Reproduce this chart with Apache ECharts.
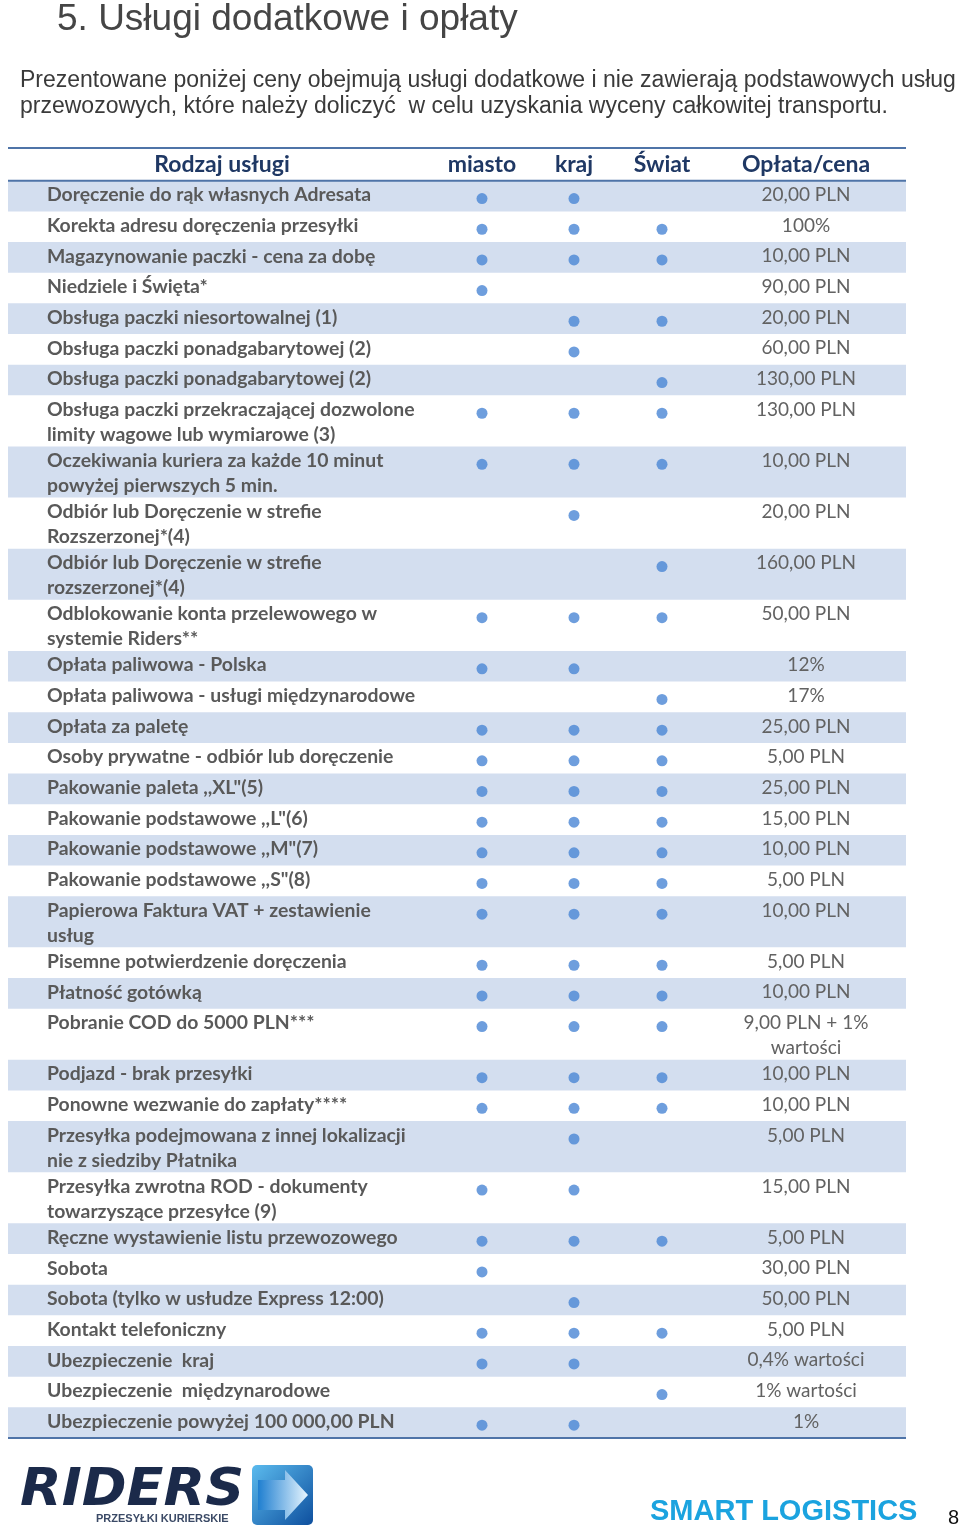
<!DOCTYPE html>
<html><head><meta charset="utf-8">
<script src="https://cdn.jsdelivr.net/npm/echarts@6/dist/echarts.min.js"></script>
<style>html,body{margin:0;padding:0;background:#fff}#c{width:960px;height:1534px}</style>
</head><body><div id="c"></div>
<script>
// ---------- DATA ----------
const columns = ['Rodzaj usługi', 'miasto', 'kraj', 'Świat', 'Opłata/cena'];
const services = [
  'Doręczenie do rąk własnych Adresata',
  'Korekta adresu doręczenia przesyłki',
  'Magazynowanie paczki - cena za dobę',
  'Niedziele i Święta*',
  'Obsługa paczki niesortowalnej (1)',
  'Obsługa paczki ponadgabarytowej (2)',
  'Obsługa paczki ponadgabarytowej (2)',
  'Obsługa paczki przekraczającej dozwolone\nlimity wagowe lub wymiarowe (3)',
  'Oczekiwania kuriera za każde 10 minut\npowyżej pierwszych 5 min.',
  'Odbiór lub Doręczenie w strefie\nRozszerzonej*(4)',
  'Odbiór lub Doręczenie w strefie\nrozszerzonej*(4)',
  'Odblokowanie konta przelewowego w\nsystemie Riders**',
  'Opłata paliwowa - Polska',
  'Opłata paliwowa - usługi międzynarodowe',
  'Opłata za paletę',
  'Osoby prywatne - odbiór lub doręczenie',
  'Pakowanie paleta ,,XL"(5)',
  'Pakowanie podstawowe ,,L"(6)',
  'Pakowanie podstawowe ,,M"(7)',
  'Pakowanie podstawowe ,,S"(8)',
  'Papierowa Faktura VAT + zestawienie\nusług',
  'Pisemne potwierdzenie doręczenia',
  'Płatność gotówką',
  'Pobranie COD do 5000 PLN***',
  'Podjazd - brak przesyłki',
  'Ponowne wezwanie do zapłaty****',
  'Przesyłka podejmowana z innej lokalizacji\nnie z siedziby Płatnika',
  'Przesyłka zwrotna ROD - dokumenty\ntowarzyszące przesyłce (9)',
  'Ręczne wystawienie listu przewozowego',
  'Sobota',
  'Sobota (tylko w usłudze Express 12:00)',
  'Kontakt telefoniczny',
  'Ubezpieczenie  kraj',
  'Ubezpieczenie  międzynarodowe',
  'Ubezpieczenie powyżej 100 000,00 PLN'
];
const cityFlags    = [1,1,1,1,0,0,0,1,1,0,0,1,1,0,1,1,1,1,1,1,1,1,1,1,1,1,0,1,1,1,0,1,1,0,1];
const countryFlags = [1,1,1,0,1,1,0,1,1,1,0,1,1,0,1,1,1,1,1,1,1,1,1,1,1,1,1,1,1,0,1,1,1,0,1];
const worldFlags   = [0,1,1,0,1,0,1,1,1,0,1,1,0,1,1,1,1,1,1,1,1,1,1,1,1,1,0,0,1,0,0,1,0,1,0];
const prices = [
  '20,00 PLN','100%','10,00 PLN','90,00 PLN','20,00 PLN','60,00 PLN','130,00 PLN',
  '130,00 PLN','10,00 PLN','20,00 PLN','160,00 PLN','50,00 PLN','12%','17%',
  '25,00 PLN','5,00 PLN','25,00 PLN','15,00 PLN','10,00 PLN','5,00 PLN','10,00 PLN',
  '5,00 PLN','10,00 PLN','9,00 PLN + 1%\nwartości','10,00 PLN','10,00 PLN','5,00 PLN',
  '15,00 PLN','5,00 PLN','30,00 PLN','50,00 PLN','5,00 PLN','0,4% wartości','1% wartości','1%'
];
const titleText = '5. Usługi dodatkowe i opłaty';
const introText = 'Prezentowane poniżej ceny obejmują usługi dodatkowe i nie zawierają podstawowych usług\nprzewozowych, które należy doliczyć  w celu uzyskania wyceny całkowitej transportu.';

// ---------- LAYOUT ----------
const GRID_LEFT = 8, GRID_TOP = 148, GRID_W = 898, GRID_H = 1290;
const HEADER_U = 3.2;
const lineCount = services.map((s, i) => Math.max(s.split('\n').length, prices[i].split('\n').length));
const rowH = lineCount.map(n => n === 1 ? 3 : 5);
const rowTop = [];
let acc = 0;
rowH.forEach(h => { rowTop.push(acc); acc += h; });
const TOTAL_U = acc;
const colX = { name: 39, city: 474, country: 566, world: 654, price: 798, head0: 214 };
const TEXT_C = 1.4, DOT_C = 1.75; // in row units
const LINE_PX = 25;

const FONT_CAL = 'Lato, "Open Sans", sans-serif';
const nameColor = '#595959', priceColor = '#626262', headColor = '#1f3864';
const shade = '#d3deef', lineColor = '#4f74a8', dotColor = '#4a86d4';

function dots(flags, x) {
  const out = [];
  flags.forEach((f, i) => { if (f) out.push([x, rowTop[i] + DOT_C]); });
  return out;
}

const chart = echarts.init(document.getElementById('c'), null, { renderer: 'canvas' });
chart.setOption({
  animation: false,
  backgroundColor: '#ffffff',
  grid: { left: GRID_LEFT, top: GRID_TOP, width: GRID_W, height: GRID_H },
  xAxis: { type: 'value', min: 0, max: GRID_W, show: false },
  yAxis: { type: 'value', min: -HEADER_U, max: TOTAL_U, inverse: true, show: false },
  graphic: [
    { type: 'text', left: 57, top: 1, style: { text: titleText, font: '37px "Liberation Sans", Arial, sans-serif', fill: '#454545' } },
    { type: 'text', left: 20, top: 68, style: { text: introText, font: '23px "Liberation Sans", Arial, sans-serif', fill: '#3a3a3a', lineHeight: 26 } },
    // logo
    { type: 'text', left: 20, top: 1466, scaleX: 1.06, style: { text: 'RIDERS', font: 'italic bold 51px "DejaVu Sans", sans-serif', fill: '#1b2a4a' } },
    { type: 'text', left: 96, top: 1513, style: { text: 'PRZESYŁKI KURIERSKIE', font: 'bold 11px "Liberation Sans", Arial, sans-serif', fill: '#3b4a66' } },
    { type: 'rect', shape: { x: 252, y: 1465, width: 61, height: 60, r: 5 },
      style: { fill: new echarts.graphic.LinearGradient(0, 0, 1, 1, [{ offset: 0, color: '#5bbbee' }, { offset: 1, color: '#0e4f9e' }]) } },
    { type: 'polygon', shape: { points: [[258,1480],[285,1480],[285,1470],[308,1495],[285,1520],[285,1510],[258,1510]] },
      style: { fill: new echarts.graphic.LinearGradient(0, 0, 1, 0, [{ offset: 0, color: '#1f7fd0' }, { offset: 1, color: '#e8f6ff' }]) } },
    { type: 'text', left: 650, top: 1497, style: { text: 'SMART LOGISTICS', font: 'bold 29px "Liberation Sans", Arial, sans-serif', fill: '#1ba3df' } },
    { type: 'text', left: 948, top: 1508, style: { text: '8', font: '20px "Liberation Sans", Arial, sans-serif', fill: '#111111' } }
  ],
  series: [
    {
      type: 'custom', name: 'rows', z: 1,
      data: services.map((s, i) => [i]),
      renderItem: function (params, api) {
        const i = api.value(0);
        const p0 = api.coord([0, rowTop[i]]);
        const p1 = api.coord([GRID_W, rowTop[i] + rowH[i]]);
        const tc = api.coord([colX.name, rowTop[i] + TEXT_C]);
        const pc = api.coord([colX.price, rowTop[i] + TEXT_C]);
        const children = [];
        if (i % 2 === 0) {
          children.push({ type: 'rect', shape: { x: p0[0], y: p0[1], width: p1[0] - p0[0], height: p1[1] - p0[1] }, style: { fill: shade } });
        }
        children.push({ type: 'text', style: { text: services[i], x: tc[0], y: tc[1] - LINE_PX / 2, textAlign: 'left', textVerticalAlign: 'top', lineHeight: LINE_PX, font: 'bold 19.4px ' + FONT_CAL, fill: nameColor } });
        children.push({ type: 'text', style: { text: prices[i], x: pc[0], y: pc[1] - LINE_PX / 2, textAlign: 'center', textVerticalAlign: 'top', lineHeight: LINE_PX, font: '19px ' + FONT_CAL, fill: priceColor } });
        return { type: 'group', children: children };
      }
    },
    {
      type: 'custom', name: 'header', z: 2,
      data: [[0]],
      renderItem: function (params, api) {
        const yTop = api.coord([0, -HEADER_U])[1];
        const yMid = api.coord([0, 0])[1];
        const yBot = api.coord([0, TOTAL_U])[1];
        const x0 = api.coord([0, 0])[0], x1 = api.coord([GRID_W, 0])[0];
        const hy = api.coord([0, -HEADER_U / 2])[1];
        const hx = [colX.head0, colX.city, colX.country, colX.world, colX.price].map(v => api.coord([v, 0])[0]);
        const children = [
          { type: 'line', shape: { x1: x0, y1: yTop, x2: x1, y2: yTop }, style: { stroke: lineColor, lineWidth: 2 } },
          { type: 'line', shape: { x1: x0, y1: yMid, x2: x1, y2: yMid }, style: { stroke: lineColor, lineWidth: 2 } },
          { type: 'line', shape: { x1: x0, y1: yBot, x2: x1, y2: yBot }, style: { stroke: lineColor, lineWidth: 2 } }
        ];
        columns.forEach((c, k) => {
          children.push({ type: 'text', style: { text: c, x: hx[k], y: hy, textAlign: 'center', textVerticalAlign: 'middle', font: 'bold 23px ' + FONT_CAL, fill: headColor } });
        });
        return { type: 'group', children: children };
      }
    },
    { type: 'scatter', name: columns[1], z: 3, symbol: 'circle', symbolSize: 11, itemStyle: { color: dotColor }, data: dots(cityFlags, colX.city) },
    { type: 'scatter', name: columns[2], z: 3, symbol: 'circle', symbolSize: 11, itemStyle: { color: dotColor }, data: dots(countryFlags, colX.country) },
    { type: 'scatter', name: columns[3], z: 3, symbol: 'circle', symbolSize: 11, itemStyle: { color: dotColor }, data: dots(worldFlags, colX.world) }
  ]
});
</script></body></html>
